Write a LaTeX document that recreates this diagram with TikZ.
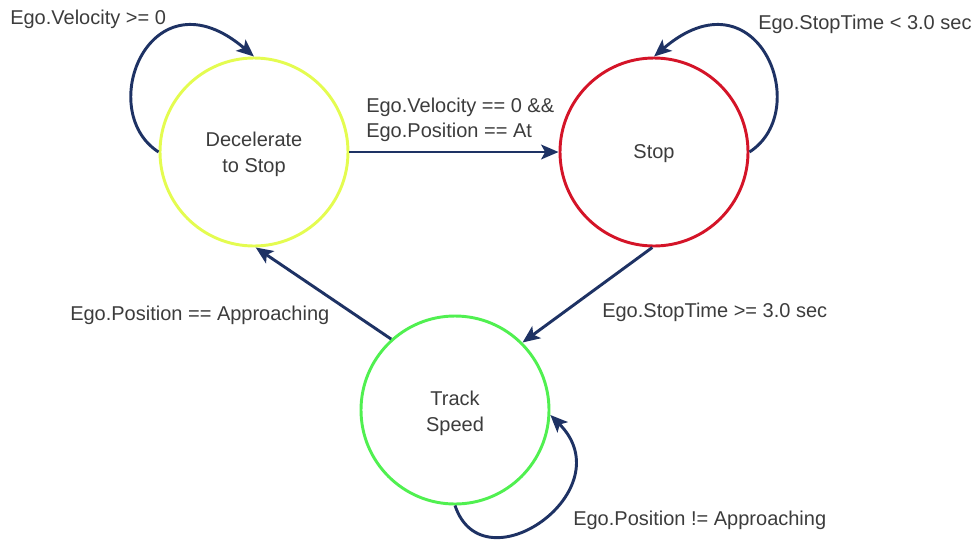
\documentclass[tikz,border=0pt]{standalone}
\usepackage{fontspec}
\setmainfont{Liberation Sans}
\usetikzlibrary{arrows.meta}

\definecolor{decelcol}{RGB}{228,252,80}
\definecolor{stopcol}{RGB}{212,20,40}
\definecolor{trackcol}{RGB}{80,240,80}
\definecolor{edgecol}{RGB}{30,50,100}
\definecolor{txtcol}{RGB}{60,60,60}

\tikzset{
  state/.style={circle, draw, line width=2.2pt, minimum size=141pt, inner sep=0pt},
  statetext/.style={align=center, text=txtcol, inner sep=0pt,
    font=\fontsize{15}{19.5}\selectfont},
  trans/.style={draw=edgecol, line width=2.2pt,
    -{Stealth[length=13pt, width=11pt, inset=3pt]}},
  lbl/.style={text=txtcol, font=\fontsize{15}{18.5}\selectfont, inner sep=0pt, anchor=west, align=left}
}

\begin{document}
\begin{tikzpicture}[x=0.75pt, y=-0.75pt]
  \useasboundingbox (0,0) rectangle (978,540);

  % states
  \node[state, draw=decelcol] (dec) at (254,152) {};
  \node[state, draw=stopcol]  (stop) at (654,152) {};
  \node[state, draw=trackcol] (trk) at (455,410) {};
  \node[statetext] (dect) at ([yshift=-2pt]dec.center) {Decelerate\\to Stop};
  \node[statetext] (stopt) at ([yshift=-1pt]stop.center) {Stop};
  \node[statetext] (trkt) at ([yshift=-2.5pt]trk.center) {Track\\Speed};

  % transitions between states
  \draw[trans] (dec.east) -- (stop.west);
  \draw[trans] (stop.-91) -- (trk.45);
  \draw[trans] (trk.132) -- (dec.-89);

  % self loops
  \draw[trans] (dec.west) .. controls +(-65,-42) and +(-103,-88) .. (dec.north);
  \draw[trans] (stop.east) .. controls +(65,-42) and +(103,-88) .. (stop.north);
  \draw[trans] (trk.south) .. controls +(28,84) and +(75,75) .. (trk.-3);

  % transition labels
  \node[lbl] (l1) at (10,19) {Ego.Velocity >= 0};
  \node[lbl] (l2) at (366,120) {Ego.Velocity == 0 \&\&\\Ego.Position == At};
  \node[lbl] (l3) at (758,24) {Ego.StopTime < 3.0 sec};
  \node[lbl] (l4) at (70,315) {Ego.Position == Approaching};
  \node[lbl] (l5) at (602,312) {Ego.StopTime >= 3.0 sec};
  \node[lbl] (l6) at (573,520) {Ego.Position != Approaching};
\end{tikzpicture}
\end{document}
